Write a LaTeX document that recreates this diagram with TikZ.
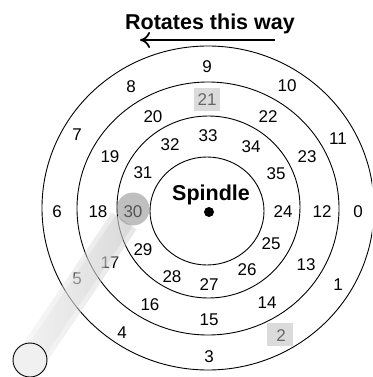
\documentclass[tikz,border=0pt]{standalone}
\usepackage{fontspec}
\setmainfont{Liberation Sans}
\usetikzlibrary{arrows.meta}
\begin{document}
\begin{tikzpicture}[x=1pt,y=-1pt,
  num/.style={font=\fontsize{17}{19}\selectfont, inner sep=0pt},
  ring/.style={draw=black, line width=0.9pt},
  big/.style={font=\fontsize{21.5}{24}\selectfont\bfseries, inner sep=0pt, anchor=base},
  veil/.style={fill=black!26, fill opacity=0.54, inner sep=0pt, minimum width=26pt, minimum height=23pt},
  bandfill/.style={left color=black!7, right color=black!22, fill opacity=0.42}
]
\useasboundingbox (0,0) rectangle (372,377);
\clip (0,0) rectangle (372,377);

% title and arrow
\node[big] (title) at (210,30) {Rotates this way};
\coordinate (arrS) at (275,40);
\coordinate (arrE) at (140,40);
\draw[line width=1.7pt, -{Computer Modern Rightarrow[length=10pt,width=16pt]}] (arrS) -- (arrE);

% rings
\draw[ring] (208,208) ellipse [x radius=166pt, y radius=162pt];
\draw[ring] (208,208.5) ellipse [x radius=131pt, y radius=126.5pt];
\draw[ring] (208.5,207) ellipse [x radius=91.5pt, y radius=91pt];
\draw[ring] (207,211) ellipse [x radius=57pt, y radius=54pt];

% spindle
\node[big] (spl) at (211,200.5) {Spindle};
\node[circle, fill=black, inner sep=0pt, minimum size=10pt] (dot) at (209,212) {};

% numbers
\foreach \n/\x/\y in {9/207/67, 8/131/87, 10/287/86, 21/207/100, 20/153/117, 22/268/117,
  7/77/135, 11/338/139, 33/208/136, 32/170/145, 34/251/147, 19/110/157, 23/307/157,
  31/143/173, 35/276/174, 6/57/212, 18/98/212, 30/133/212, 24/283/212, 12/322/212,
  0/358/212, 25/271/244, 29/143/250, 17/110/263, 13/306/265, 1/338/285, 5/77/279,
  28/172/277, 26/247/270, 27/209/285, 16/150/305, 14/267/303, 15/209/320, 4/122/333,
  2/281/336, 3/209/357}
  \node[num] (n\n) at (\x,\y) {\n};

% overlays
\coordinate (smc) at (30,360);
\coordinate (gc) at (133,209);
\begin{scope}[shift={(smc)}, rotate=55.9]
  \shade[bandfill] (0pt,-15pt) rectangle (168pt,15pt);
  \shade[bandfill] (0pt,-10pt) rectangle (168pt,10pt);
\end{scope}
\node[circle, fill=black!43, fill opacity=0.58, inner sep=0pt, minimum size=33pt] (g30) at (gc) {};
\node[veil] (v21) at (207,99.5) {};
\node[veil] (v2) at (280,334.5) {};

% small circle
\node[circle, draw=black, line width=0.9pt, fill=black!6, inner sep=0pt, minimum size=34pt] (sm) at (smc) {};
\end{tikzpicture}
\end{document}
